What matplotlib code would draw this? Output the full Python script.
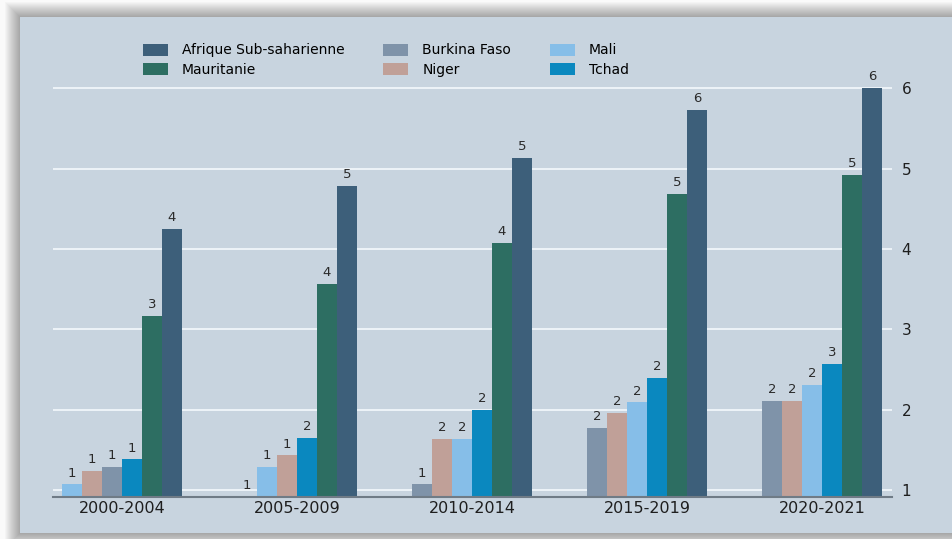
import numpy as np
import matplotlib
matplotlib.use("Agg")
import matplotlib.pyplot as plt
from matplotlib.patches import Rectangle

# ---------------- data ----------------
periods = ["2000-2004", "2005-2009", "2010-2014", "2015-2019", "2020-2021"]
series_names = ["Burkina Faso", "Niger", "Mali", "Tchad", "Mauritanie", "Afrique Sub-saharienne"]
burkina = [1.29, 0.90, 1.07, 1.77, 2.11]
niger = [1.24, 1.43, 1.64, 1.96, 2.11]
mali = [1.07, 1.29, 1.64, 2.09, 2.31]
tchad = [1.38, 1.65, 2.00, 2.40, 2.57]
mauritanie = [3.17, 3.57, 4.08, 4.69, 4.92]
afrique = [4.25, 4.78, 5.13, 5.73, 6.00]
y_ticks = [1, 2, 3, 4, 5, 6]

values = [burkina, niger, mali, tchad, mauritanie, afrique]
colors = ["#7f93a9", "#c0a098", "#86bee8", "#0a88bf", "#2d6e62", "#3d5f7a"]
legend_order = ["Afrique Sub-saharienne", "Mauritanie", "Burkina Faso", "Niger", "Mali", "Tchad"]

plt.rcParams["font.family"] = ["DejaVu Sans"]

W, H = 952, 539
fig = plt.figure(figsize=(W / 100, H / 100), dpi=100)
fig.patch.set_facecolor("#fafafa")

# panel with soft shadow
px0, py0, px1, py1 = 20, 17, 960, 533
for k in range(1, 16):
    fig.add_artist(Rectangle(((px0 - k) / W, 1 - (py1 + k) / H),
                             (px1 - px0 + 2 * k) / W, (py1 - py0 + 2 * k) / H,
                             transform=fig.transFigure, facecolor="black",
                             edgecolor="none", alpha=0.022, zorder=-20))
fig.add_artist(Rectangle((px0 / W, 1 - py1 / H), (px1 - px0) / W, (py1 - py0) / H,
                         transform=fig.transFigure, facecolor="#c8d4df",
                         edgecolor="none", zorder=-10))

ax = fig.add_axes([53 / W, 42 / H, (892 - 53) / W, (497 - 70) / H])
ax.set_facecolor("none")
ymin, ymax = 0.913, 6.228
ax.set_ylim(ymin, ymax)
ax.set_xlim(-0.394, 4.4)

bw = 20 / 175
vals = np.array(values)  # series x groups
n_series = vals.shape[0]
xpos = np.zeros_like(vals)
for g in range(vals.shape[1]):
    order = np.argsort(vals[:, g], kind="stable")
    for rank, s in enumerate(order):
        xpos[s, g] = g + (rank - (n_series - 1) / 2) * bw

handles = {}
for s in range(n_series):
    b = ax.bar(xpos[s], vals[s], width=bw, color=colors[s], label=series_names[s], zorder=2)
    handles[series_names[s]] = b
    for x, v in zip(xpos[s], vals[s]):
        ax.annotate(f"{v:.0f}", (x, max(v, ymin)), xytext=(0, 3.5), textcoords="offset points",
                    ha="center", va="bottom", fontsize=9.5, color="#2a2a2a", zorder=3)

ax.yaxis.tick_right()
ax.set_yticks(y_ticks)
ax.set_yticklabels([str(t) for t in y_ticks])
ax.tick_params(axis="y", length=0, pad=7, labelsize=11, labelcolor="#1e1e1e")
ax.set_xticks(range(len(periods)))
ax.set_xticklabels(periods)
ax.tick_params(axis="x", length=0, pad=3, labelsize=11.5, labelcolor="#1e1e1e")
ax.grid(axis="y", color="#eef3f8", linewidth=1.4, zorder=0)
ax.set_axisbelow(True)
for sp in ["top", "left", "right"]:
    ax.spines[sp].set_visible(False)
ax.spines["bottom"].set_color("#6f7b86")
ax.spines["bottom"].set_linewidth(1.5)
ax.spines["bottom"].set_zorder(4)

fig.legend([handles[n] for n in legend_order], legend_order, ncol=3,
           loc="center left", bbox_to_anchor=(143 / W, 1 - 60 / H),
           frameon=False, fontsize=10, handlelength=1.8, handleheight=0.95,
           handletextpad=1.0, columnspacing=2.8, labelspacing=0.38,
           borderpad=0, borderaxespad=0)

fig.savefig("out.png", dpi=100, facecolor=fig.get_facecolor())
